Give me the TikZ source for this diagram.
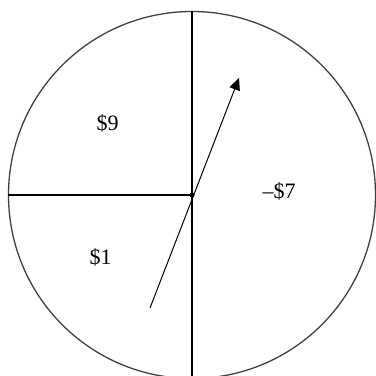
\documentclass[tikz,border=0pt]{standalone}
\usepackage{fontspec}
\setmainfont{Liberation Serif}
\usetikzlibrary{arrows.meta}
\begin{document}
\begin{tikzpicture}[x=1pt,y=1pt,
  rim/.style={draw=black!75,line width=1.3pt},
  divider/.style={draw=black,line width=1.4pt},
  pointer/.style={draw=black,line width=1pt,-{Triangle[length=12pt,width=11pt]}},
  lbl/.style={font=\fontsize{22}{26}\selectfont,inner sep=0pt}]
\useasboundingbox (0,0) rectangle (376,376);
\clip (0,0) rectangle (376,376);
\coordinate (C) at (192,181);
\coordinate (T) at (192,365);
\coordinate (B) at (192,-5);
\coordinate (L) at (8,181);
\coordinate (tail) at (150,68);
\coordinate (tip) at (239,298);
\draw[rim] (C) circle (183.5);
\draw[divider] (T) -- (B);
\draw[divider] (L) -- (C);
\draw[pointer] (tail) -- (tip);
\fill (C) circle (2.5);
\node[lbl] (nine) at (107.5,253) {\$9};
\node[lbl] (minus) at (279,185) {–\$7};
\node[lbl] (one) at (100.5,119) {\$1};
\end{tikzpicture}
\end{document}
